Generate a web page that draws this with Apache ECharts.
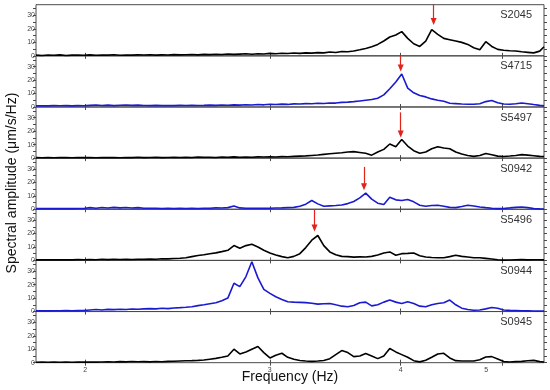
<!DOCTYPE html>
<html><head><meta charset="utf-8">
<script src="https://cdn.jsdelivr.net/npm/echarts@6/dist/echarts.min.js"></script>
<style>html,body{margin:0;padding:0;background:#fff}#c{width:550px;height:390px}</style>
</head><body><div id="c"></div>
<script>
const freq = [1.795,1.819,1.843,1.867,1.892,1.917,1.943,1.968,1.994,2.021,
 2.048,2.075,2.102,2.130,2.159,2.187,2.216,2.246,2.275,2.306,
 2.336,2.367,2.399,2.430,2.463,2.495,2.528,2.562,2.596,2.630,
 2.665,2.700,2.736,2.773,2.809,2.847,2.884,2.923,2.961,3.001,
 3.040,3.081,3.121,3.163,3.205,3.247,3.290,3.334,3.378,3.423,
 3.468,3.514,3.561,3.608,3.656,3.704,3.753,3.803,3.854,3.905,
 3.957,4.009,4.062,4.116,4.171,4.226,4.282,4.339,4.397,4.455,
 4.514,4.574,4.635,4.696,4.759,4.822,4.886,4.950,5.016,5.083,
 5.150,5.218,5.288,5.358,5.429,5.480];

const stations = ['S2045','S4715','S5497','S0942','S5496','S0944','S0945'];

const ampS2045 = [0.5,0.3,0.6,0.4,0.7,0.3,0.5,0.6,0.4,0.7,
 0.4,0.6,0.5,0.8,0.4,0.6,0.5,0.7,0.6,0.8,
 0.5,0.7,0.6,0.9,0.7,0.8,1.0,0.7,1.1,0.9,
 1.2,1.0,1.4,1.1,1.3,1.5,1.2,1.6,1.4,1.8,
 1.5,1.9,1.7,2.1,1.8,2.2,2.0,2.4,2.2,2.8,
 2.5,3.2,3.0,3.6,4.5,5.5,6.8,8.5,11,14,
 15.5,18,13,9,7,11,19.5,16,13,12,
 11,10,8.5,6,4.5,10.5,7,4.8,4.2,3.8,
 3.6,3.0,2.6,2.2,3.5,6.8];
const ampS4715 = [0.8,0.9,0.8,1.0,0.9,1.0,0.8,1.0,0.9,1.2,
 1.5,1.1,1.4,1.0,1.3,1.5,1.2,1.4,1.1,1.0,
 1.2,1.0,1.1,1.0,1.2,1.1,1.3,1.1,1.2,1.4,
 1.2,1.5,1.3,1.6,1.4,1.7,1.5,1.8,1.6,2.0,
 1.8,2.1,1.9,2.3,2.2,2.5,2.4,2.8,2.6,3.0,
 2.9,3.4,3.6,4.0,4.5,5.0,5.5,6.5,9,13.5,
 18.5,24.5,14,10.5,8.5,7.5,6,5,4.2,2.8,
 2.5,2.2,2.0,2.0,2.4,4,4.8,3.2,2.2,2.0,
 2.4,3.0,2.4,1.8,1.2,0.8];
const ampS5497 = [0.4,0.3,0.5,0.3,0.4,0.5,0.3,0.4,0.5,0.4,
 0.3,0.5,0.4,0.5,0.3,0.5,0.4,0.6,0.4,0.5,
 0.6,0.4,0.5,0.7,0.5,0.6,0.5,0.8,0.6,0.7,
 0.5,0.8,0.6,0.9,0.7,0.8,0.6,0.9,0.8,1.0,
 0.8,1.1,1.0,1.3,1.5,1.7,2.0,2.3,2.8,3.2,
 3.6,4.0,4.6,4.8,4.2,3.6,2.2,4.5,6.5,10.5,
 8.5,13.8,9,5.5,3.6,4.5,7,8.5,7.5,7,
 4.5,3,2,1.3,2,3.4,2.5,1.5,1.2,1.6,
 2.0,2.6,2.2,1.8,1.3,1.2];
const ampS0942 = [0.5,0.6,0.5,0.6,0.5,0.6,0.5,0.6,0.6,1.2,
 0.8,1.3,0.9,1.4,1.0,1.3,0.9,1.2,0.8,0.7,
 0.8,0.6,0.7,0.6,0.7,0.6,0.8,0.6,0.7,0.8,
 1.0,0.9,1.2,2.4,1.0,0.8,0.7,0.8,0.7,0.8,
 0.9,1.0,1.2,1.4,2.2,3.8,6.5,4.0,2.2,2.5,
 2.8,3.2,4.2,5.8,8.5,12,7.5,4.5,3.5,9,
 7,6.5,7.2,5.5,3,2.2,2.8,3.0,2.2,1.4,
 1.2,2,3,2.4,1.7,1.2,0.8,0.5,0.6,1.0,
 1.4,1.7,1.2,0.6,0.3,0.2];
const ampS5496 = [0.4,0.5,0.4,0.5,0.4,0.5,0.4,0.6,0.5,0.6,
 0.5,0.8,0.6,0.9,0.7,0.8,0.7,0.9,0.8,1.0,
 0.9,1.2,1.1,1.4,1.6,2.0,2.8,3.6,4.2,5.0,
 5.6,6.5,7.5,11,9,11,12,10,7.5,5.5,
 4,2.8,2,3,5,9.5,15,18.5,11,6.3,
 4.2,3,2.8,2.4,2.6,2.5,3,4,5.5,6.3,
 3.8,5,5.2,5.5,3.5,2.5,2.2,2.0,2.0,2.8,
 3.8,3,2.5,2,2,1.5,1.0,0.5,0.2,0.3,
 0.5,0.6,0.4,0.5,0.5,0.4];
const ampS0944 = [0.5,0.6,0.5,0.6,0.6,0.7,0.6,0.7,0.8,1.2,
 1.5,1.2,1.6,1.4,1.7,1.5,1.9,1.7,2.0,2.2,
 2.0,2.4,2.2,2.6,2.9,3.2,3.6,4.4,5.0,5.8,
 6.5,8,10,21,18.5,26,37,25,16.5,13.5,
 11,9,7.3,7,6.8,6.6,6.2,5.5,5.8,6,
 5,4,3.5,4.5,6.5,7,4.2,5,7,8.5,
 7,6,7.2,6,4,3.5,5,6,6.5,8.5,
 5,2.5,1.5,1,1.2,2,3,2.4,1.2,0.9,
 0.8,0.6,0.5,0.4,0.3,0.3];
const ampS0945 = [0.3,0.4,0.3,0.4,0.3,0.4,0.3,0.4,0.4,0.5,
 0.4,0.5,0.6,0.5,0.8,0.6,0.9,0.7,0.8,0.6,
 0.9,0.7,1.0,1.1,1.3,1.4,1.5,1.7,2.0,2.6,
 3.2,4.0,5,10,6.5,8,10,12,7.5,3.5,
 5.5,7,4,2.5,1.6,1.2,1.0,1.2,1.6,3,
 6,9,7.5,4.5,5,6.8,5,3,5,10.5,
 8,6,4,1.5,0.6,1.8,4,6.5,7,3.5,
 1.5,1.2,1.2,1.3,2.2,4.2,4.5,2.8,0.8,0.5,
 0.8,1.0,1.4,1.7,0.8,0.5];

const amplitudes = [ampS2045, ampS4715, ampS5497, ampS0942, ampS5496, ampS0944, ampS0945];

// red arrows marking the picked peaks (frequency, arrow start, arrow end) in data units
const arrowFreq = [4.30, 4.00, 4.00, 3.69, 3.31, null, null];
const arrowFrom = [38, 38, 34, 31.5, 38, null, null];
const arrowTo   = [25.5, 29, 18, 16.8, 24, null, null];

const xTickValues = [2, 3, 4, 5];
const yTickValues = [0, 5, 10, 15, 20, 25, 30, 35];
const yLabelValues = [0, 10, 20, 30];
const xMin = 1.795, xMax = 5.48, yMin = 0, yMax = 38;

const FONT = '"Liberation Sans", Arial, sans-serif';
const BLACK = '#000000', BLUE = '#1a1ad0', RED = '#e2231a', AXIS = '#4a4a4a';
const lineColors = [BLACK, BLUE, BLACK, BLUE, BLACK, BLUE, BLACK];

const n = stations.length;
const top0 = 4.7, panelH = 51.14;

const grids = [], xAxes = [], yAxes = [], series = [], titles = [];
for (let k = 0; k < n; k++) {
  grids.push({left: 36, right: 6, top: top0 + panelH * k, height: panelH,
    show: true, borderColor: AXIS, borderWidth: 1, backgroundColor: 'transparent'});
  ['bottom', 'top'].forEach(pos => {
    xAxes.push({
      gridIndex: k, type: 'log', min: xMin, max: xMax, position: pos,
      axisLine: {show: false}, splitLine: {show: false},
      axisTick: {show: true, inside: true, length: 3, customValues: xTickValues, lineStyle: {color: AXIS}},
      axisLabel: {show: pos === 'bottom' && k === n - 1, customValues: xTickValues,
        fontSize: 7, color: '#444', margin: 4, fontFamily: FONT,
        formatter: v => Math.round(v) === 5 ? '{s|5}' : String(Math.round(v)),
        rich: {s: {fontSize: 7, color: '#444', fontFamily: FONT, padding: [0, 32, 0, 0]}}},
      minorTick: {show: false}
    });
  });
  ['left', 'right'].forEach(pos => {
    yAxes.push({
      gridIndex: k, type: 'value', min: yMin, max: yMax, interval: 10, position: pos,
      axisLine: {show: false}, splitLine: {show: false},
      axisTick: {show: true, inside: false, length: 3, customValues: yTickValues, lineStyle: {color: AXIS}},
      axisLabel: {show: pos === 'left', customValues: yLabelValues, fontSize: 7, color: '#444', margin: 1, fontFamily: FONT}
    });
  });
  const s = {
    type: 'line', xAxisIndex: 2 * k, yAxisIndex: 2 * k,
    data: freq.map((f, i) => [f, amplitudes[k][i]]),
    showSymbol: false, symbol: 'none', clip: false,
    lineStyle: {color: lineColors[k], width: 1.6},
    itemStyle: {color: lineColors[k]},
    emphasis: {disabled: true}, silent: true
  };
  if (arrowFreq[k] != null) {
    s.markLine = {
      silent: true, symbol: ['none', 'triangle'], symbolSize: [6, 7],
      label: {show: false}, emphasis: {disabled: true},
      lineStyle: {color: RED, width: 1.2, type: 'solid'},
      data: [[{coord: [arrowFreq[k], arrowFrom[k]]}, {coord: [arrowFreq[k], arrowTo[k]]}]]
    };
  }
  series.push(s);
  titles.push({text: stations[k], right: 18, top: top0 + panelH * k + 5, padding: 0,
    textStyle: {fontSize: 11, fontWeight: 'normal', color: '#333', fontFamily: FONT}});
}

const chart = echarts.init(document.getElementById('c'), null, {renderer: 'canvas', width: 550, height: 390});
chart.setOption({
  animation: false,
  backgroundColor: '#ffffff',
  title: titles,
  grid: grids, xAxis: xAxes, yAxis: yAxes, series: series,
  graphic: [
    {type: 'text', x: 12, y: 183, rotation: Math.PI / 2,
     style: {text: 'Spectral amplitude (μm/s/Hz)', font: '14px ' + FONT, fill: '#111',
       align: 'center', verticalAlign: 'middle', textAlign: 'center', textVerticalAlign: 'middle'}},
    {type: 'text', x: 290, y: 377,
     style: {text: 'Frequency (Hz)', font: '14px ' + FONT, fill: '#111',
       align: 'center', verticalAlign: 'middle', textAlign: 'center', textVerticalAlign: 'middle'}}
  ]
});
</script></body></html>
